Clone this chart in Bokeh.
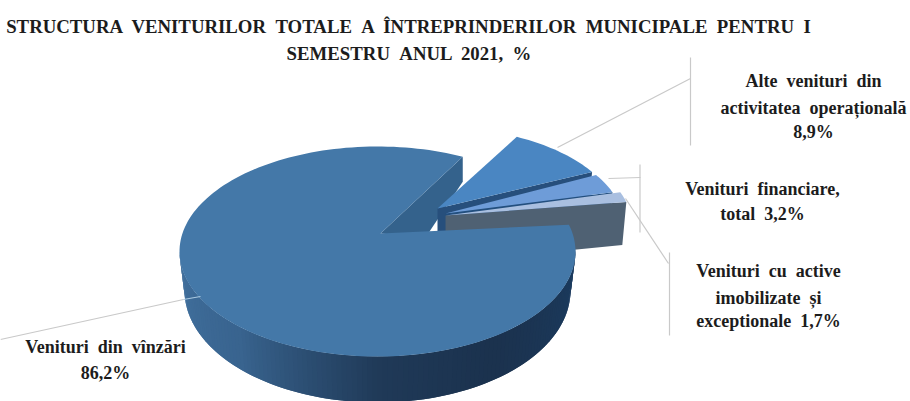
import numpy as np
from bokeh.embed import file_html
from bokeh.resources import INLINE
from bokeh.plotting import figure
from bokeh.models import Range1d
from bokeh.core.properties import value

# ---- data ----
categories = ["Venituri din vînzări", "Alte venituri din activitatea operațională",
              "Venituri financiare, total", "Venituri cu active imobilizate și exceptionale"]
shares = [86.2, 8.9, 3.2, 1.7]

title_lines = ["STRUCTURA VENITURILOR TOTALE A ÎNTREPRINDERILOR MUNICIPALE PENTRU I",
               "SEMESTRU ANUL 2021, %"]
label_lines = [["Venituri din vînzări", "86,2%"],
               ["Alte venituri din", "activitatea operațională", "8,9%"],
               ["Venituri financiare,", "total 3,2%"],
               ["Venituri cu active", "imobilizate și", "exceptionale 1,7%"]]

# ---- layout (page pixels) ----
W, H = 910, 401
START = 64.5
MAIN_C, MAIN_R, MAIN_APEX = (377, 251), (198, 105), (380, 233)
BOT_C, BOT_R = (377, 290), (193, 112)
SL_C = [(438, 223), (442, 226), (446, 226)]
SL_R = [(182, 96), (182, 96), (186, 96)]
SL_APEX = [(437, 208), (445, 213), (445, 215)]
SL_TOP = ["#4a86c2", "#6e9cd8", "#a9bfe0"]
SL_WALL = ["#274f7c", "#234f7e", "#4f6173"]
MAIN_TOP, MAIN_WALL = "#4478a8", "#34628c"
SIDE_STOPS = [(180, (66, 113, 158)), (225, (57, 100, 143)), (270, (32, 58, 88)),
              (305, (27, 50, 78)), (360, (28, 60, 96))]
LEADER = "#c9c9c9"
FONT = value("Liberation Serif")
INK = "#1c1c1c"


def wide(s):
    # the reference sets its words apart by about two spaces
    return s.replace(" ", " \u00a0")


def rim(c, r, deg):
    t = np.radians(np.asarray(deg, dtype=float))
    return c[0] + r[0] * np.cos(t), c[1] - r[1] * np.sin(t)


p = figure(width=W, height=H, output_backend="svg", toolbar_location=None,
           x_range=Range1d(0, W), y_range=Range1d(H, 0), min_border=0)
p.xaxis.visible = False
p.yaxis.visible = False
p.grid.visible = False
p.outline_line_color = None
p.background_fill_color = "white"
p.border_fill_color = "white"

# angles from shares
sweeps = [s * 3.6 for s in shares]
main_end = START
main_start = START - sum(sweeps[1:])

# leader lines below the pie
p.multi_line(xs=[[0, 183], [557, 690], [690, 690], [608, 640], [639.5, 639.5], [625, 668], [669, 669]],
             ys=[[339, 299], [147, 78], [57, 145], [178, 177], [164, 232], [198, 263], [252, 335]],
             line_color=LEADER, line_width=1.2)

# main slice: outer side as shaded strips
STEP = 1.5
ts = np.arange(SIDE_STOPS[0][0], SIDE_STOPS[-1][0] + 0.1, STEP)
stop_t = [s[0] for s in SIDE_STOPS]
sx, sy, sc = [], [], []
for a in ts[:-1]:
    seg = np.array([a, a + 2 * STEP])
    tx, ty = rim(MAIN_C, MAIN_R, seg)
    bx, by = rim(BOT_C, BOT_R, seg)
    sx.append(list(tx) + list(bx[::-1]))
    sy.append(list(ty) + list(by[::-1]))
    col = [int(np.interp(a, stop_t, [s[1][i] for s in SIDE_STOPS])) for i in range(3)]
    sc.append("#%02x%02x%02x" % tuple(col))
p.patches(sx, sy, fill_color=sc, line_color=None)

# main slice: wall of the notch
rx, ry = rim(MAIN_C, MAIN_R, main_end)
p.patch([MAIN_APEX[0], rx, rx, MAIN_APEX[0] + 45],
        [MAIN_APEX[1], ry, ry + 25, MAIN_APEX[1] + 4],
        fill_color=MAIN_WALL, line_color=None)

# exploded slices
a_hi = main_end
for i in range(3):
    a_lo = a_hi - sweeps[i + 1]
    arc = np.linspace(a_hi, a_lo, 24)
    ax_, ay_ = rim(SL_C[i], SL_R[i], arc)
    ap = SL_APEX[i]
    p.patch([ap[0], ax_[-1], ax_[-1] - 4, ap[0]],
            [ap[1], ay_[-1], ay_[-1] + 43, ap[1] + 47],
            fill_color=SL_WALL[i], line_color=None)
    p.patch([ap[0]] + list(ax_), [ap[1]] + list(ay_), fill_color=SL_TOP[i], line_color=None)
    a_hi = a_lo

# main slice: top face
arc = np.linspace(main_start, main_start - sweeps[0], 180)
mx, my = rim(MAIN_C, MAIN_R, arc)
p.patch([MAIN_APEX[0]] + list(mx), [MAIN_APEX[1]] + list(my), fill_color=MAIN_TOP, line_color=None)

# part of the first leader on the pie
p.line([183, 200], [299, 296], line_color="#a9c8e0", line_width=1.2)

# texts
p.text(x=[409, 409], y=[26, 53], text=[wide(t) for t in title_lines], text_font=FONT,
       text_font_style="bold", text_font_size="18.8px", text_align="center",
       text_baseline="middle", text_color=INK)

label_x = [105, 813, 762, 768]
label_y = [[346, 372], [80, 107, 131], [188, 213], [270, 297, 320]]
xs, ys, txt = [], [], []
for lx, lys, lines in zip(label_x, label_y, label_lines):
    for ly, line in zip(lys, lines):
        xs.append(lx); ys.append(ly); txt.append(wide(line))
p.text(x=xs, y=ys, text=txt, text_font=FONT, text_font_style="bold",
       text_font_size="18px", text_align="center", text_baseline="middle", text_color=INK)

open("out.html", "w").write(file_html(p, INLINE))
